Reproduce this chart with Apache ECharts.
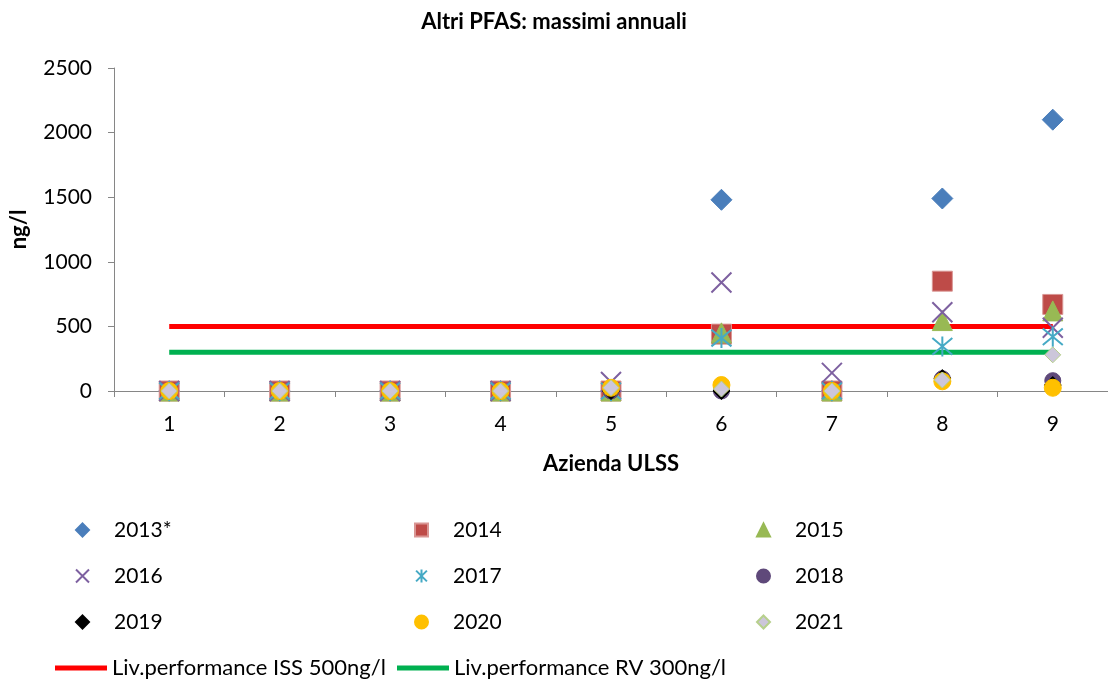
<!DOCTYPE html>
<html>
<head>
<meta charset="utf-8">
<script src="https://cdn.jsdelivr.net/npm/echarts@6/dist/echarts.min.js"></script>
<style>
  html, body { margin: 0; padding: 0; background: #fff; }
  #main { width: 1108px; height: 679px; }
</style>
</head>
<body>
<div id="main"></div>
<script type="text/javascript">
    // Azienda ULSS 1..9
    var categories = ['1', '2', '3', '4', '5', '6', '7', '8', '9'];

    // massimi annuali (ng/l) per anno
    var s2013 = [0, 0, 0, 0, 0, 1480, 0, 1490, 2100];
    var s2014 = [0, 0, 0, 0, 0, 440, 0, 850, 670];
    var s2015 = [0, 0, 0, 0, 0, 450, 0, 545, 620];
    var s2016 = [0, 0, 0, 0, 70, 840, 140, 610, 490];
    var s2017 = [0, 0, 0, 0, 0, 410, 0, 345, 420];
    var s2018 = [0, 0, 0, 0, 0, 0, 0, 95, 80];
    var s2019 = [0, 0, 0, 0, 0, 0, 0, 100, 46];
    var s2020 = [0, 0, 0, 0, 25, 46, 0, 75, 25];
    var s2021 = [0, 0, 0, 0, 25, 15, 0, 85, 280];

    // livelli di performance
    var livISS = [500, 500, 500, 500, 500, 500, 500, 500, 500];
    var livRV = [300, 300, 300, 300, 300, 300, 300, 300, 300];

    var yTicks = { min: 0, max: 2500, interval: 500 };

    var FONT = 'Lato';
    var X_PATH = 'path://M0,0L20,20M20,0L0,20';
    var STAR_PATH = 'path://M0,0L20,20M20,0L0,20M10,-2L10,22';

    function scatter(name, data, symbol, size, color, border, bw) {
        return {
            name: name,
            type: 'scatter',
            data: data,
            symbol: symbol,
            symbolSize: size,
            z: 3,
            itemStyle: {
                color: color,
                opacity: 1,
                borderColor: border || color,
                borderWidth: bw == null ? 1 : bw
            }
        };
    }

    function colLegend(left, names) {
        return {
            orient: 'vertical',
            left: left,
            top: 519,
            padding: 0,
            itemWidth: 13,
            itemHeight: 13,
            itemGap: 24,
            data: names,
            textStyle: {
                fontFamily: FONT,
                fontSize: 21,
                lineHeight: 22,
                color: '#000',
                padding: [0, 0, 0, 20]
            }
        };
    }

    function lineLegend(left, name) {
        return {
            left: left,
            top: 657,
            padding: 0,
            itemWidth: 52,
            itemHeight: 5,
            data: [{ name: name, icon: 'rect' }],
            textStyle: {
                fontFamily: FONT,
                fontSize: 22,
                lineHeight: 22,
                color: '#000'
            }
        };
    }

    var dom = document.getElementById('main');
    var myChart = echarts.init(dom);
    var option = {
        backgroundColor: '#fff',
        animation: false,
        title: {
            text: 'Altri PFAS: massimi annuali',
            left: 'center',
            top: 6,
            textStyle: {
                fontFamily: FONT,
                fontSize: 22,
                fontWeight: 'bold',
                color: '#000'
            }
        },
        legend: [
            colLegend(75, ['2013*', '2016', '2019']),
            colLegend(414, ['2014', '2017', '2020']),
            colLegend(756, ['2015', '2018', '2021']),
            lineLegend(55, 'Liv.performance ISS 500ng/l'),
            lineLegend(397, 'Liv.performance RV 300ng/l')
        ],
        grid: {
            left: 114,
            top: 68,
            right: -7,
            bottom: 288
        },
        xAxis: {
            type: 'category',
            data: categories,
            boundaryGap: true,
            name: 'Azienda ULSS',
            nameLocation: 'middle',
            nameGap: 62,
            nameTextStyle: {
                fontFamily: FONT,
                fontSize: 22,
                fontWeight: 'bold',
                color: '#000'
            },
            axisLine: { lineStyle: { color: '#868686', width: 1 } },
            axisTick: { show: true, length: 6, lineStyle: { color: '#868686' } },
            axisLabel: {
                margin: 23,
                fontFamily: FONT,
                fontSize: 21,
                color: '#000'
            },
            splitLine: { show: false }
        },
        yAxis: {
            type: 'value',
            min: yTicks.min,
            max: yTicks.max,
            interval: yTicks.interval,
            name: 'ng/l',
            nameLocation: 'middle',
            nameGap: 84,
            nameRotate: 90,
            nameTextStyle: {
                fontFamily: FONT,
                fontSize: 22,
                fontWeight: 'bold',
                color: '#000'
            },
            axisLine: { show: true, lineStyle: { color: '#868686', width: 1 } },
            axisTick: { show: true, length: 6, lineStyle: { color: '#868686' } },
            axisLabel: {
                margin: 22,
                fontFamily: FONT,
                fontSize: 21,
                color: '#000',
                formatter: function (v) { return String(v); }
            },
            splitLine: { show: false }
        },
        series: [
            {
                name: 'Liv.performance ISS 500ng/l',
                type: 'line',
                data: livISS,
                symbol: 'none',
                z: 1,
                lineStyle: { color: '#FF0000', width: 5 },
                itemStyle: { color: '#FF0000' }
            },
            {
                name: 'Liv.performance RV 300ng/l',
                type: 'line',
                data: livRV,
                symbol: 'none',
                z: 1,
                lineStyle: { color: '#00B050', width: 5 },
                itemStyle: { color: '#00B050' }
            },
            scatter('2013*', s2013, 'diamond', 21, '#4A7EBB', '#4A7EBB', 1),
            scatter('2014', s2014, 'rect', 20, '#BE4B48', '#D99694', 1),
            scatter('2015', s2015, 'triangle', 20, '#98B954', '#98B954', 1),
            scatter('2016', s2016, X_PATH, 20, '#7D60A0', '#7D60A0', 2),
            scatter('2017', s2017, STAR_PATH, 20, '#46AAC5', '#46AAC5', 2),
            scatter('2018', s2018, 'circle', 16, '#5F497A', '#5F497A', 1),
            scatter('2019', s2019, 'diamond', 17, '#000000', '#000000', 1),
            scatter('2020', s2020, 'circle', 17, '#FFC000', '#FFC000', 1),
            scatter('2021', s2021, 'diamond', 16, '#CCC6DA', '#B7D08C', 1)
        ]
    };

    if (option && typeof option === 'object') {
        myChart.setOption(option, true);
    }
</script>
</body>
</html>
